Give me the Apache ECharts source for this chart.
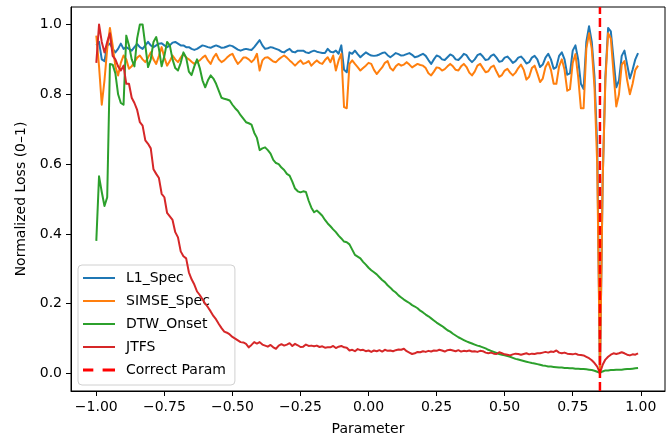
<!DOCTYPE html>
<html>
<head>
<meta charset="utf-8">
<script src="https://cdn.jsdelivr.net/npm/echarts@6/dist/echarts.min.js"></script>
<style>
html,body{margin:0;padding:0;background:#fff;}
#chart{width:672px;height:436px;}
</style>
</head>
<body>
<div id="chart"></div>
<script>
// Parameter grid (-1.00 ... 0.99, step 0.01)
const params = Array.from({length: 200}, (_, i) => +(-1 + i * 0.01).toFixed(2));

const l1Spec = [
0.94,0.95,0.90,0.895,0.94,0.945,0.93,0.92,0.93,0.945,
0.93,0.935,0.93,0.925,0.935,0.944,0.935,0.93,0.94,0.95,
0.94,0.935,0.94,0.945,0.946,0.94,0.935,0.94,0.948,0.95,
0.945,0.94,0.94,0.935,0.935,0.93,0.927,0.93,0.935,0.94,
0.938,0.935,0.933,0.937,0.94,0.937,0.933,0.934,0.937,0.94,
0.938,0.933,0.928,0.925,0.928,0.93,0.928,0.927,0.935,0.945,
0.955,0.94,0.93,0.932,0.935,0.933,0.93,0.927,0.922,0.92,
0.926,0.93,0.922,0.92,0.925,0.925,0.925,0.92,0.918,0.922,
0.925,0.922,0.92,0.918,0.918,0.93,0.922,0.92,0.925,0.916,
0.94,0.87,0.863,0.92,0.916,0.925,0.915,0.906,0.913,0.92,
0.915,0.911,0.91,0.911,0.914,0.918,0.92,0.912,0.906,0.912,
0.918,0.915,0.911,0.912,0.915,0.918,0.913,0.906,0.908,0.912,
0.916,0.91,0.898,0.887,0.9,0.911,0.908,0.9,0.898,0.906,
0.914,0.91,0.9,0.898,0.906,0.916,0.912,0.9,0.892,0.9,
0.912,0.916,0.908,0.898,0.9,0.91,0.914,0.905,0.893,0.895,
0.905,0.908,0.9,0.89,0.895,0.905,0.908,0.9,0.888,0.892,
0.905,0.91,0.9,0.878,0.885,0.905,0.916,0.9,0.873,0.878,
0.91,0.92,0.9,0.856,0.86,0.925,0.94,0.9,0.83,0.815,
0.95,0.995,0.95,0.85,0.65,0.0,0.55,0.85,0.99,0.98,
0.9,0.82,0.84,0.91,0.925,0.885,0.845,0.87,0.9,0.918
];

const simseSpec = [
0.968,0.88,0.77,0.84,0.93,0.99,0.94,0.88,0.854,0.89,
0.911,0.9,0.873,0.88,0.892,0.905,0.911,0.9,0.892,0.905,
0.92,0.9,0.887,0.91,0.935,0.905,0.882,0.895,0.911,0.9,
0.892,0.905,0.916,0.905,0.9,0.893,0.887,0.893,0.897,0.905,
0.911,0.897,0.887,0.905,0.916,0.9,0.892,0.897,0.905,0.912,
0.916,0.9,0.887,0.895,0.905,0.905,0.9,0.892,0.9,0.916,
0.868,0.897,0.905,0.906,0.9,0.894,0.892,0.9,0.906,0.911,
0.905,0.897,0.89,0.882,0.89,0.897,0.887,0.89,0.895,0.882,
0.89,0.897,0.89,0.887,0.898,0.906,0.892,0.911,0.868,0.897,
0.916,0.763,0.76,0.887,0.897,0.887,0.878,0.868,0.875,0.882,
0.89,0.887,0.87,0.858,0.868,0.877,0.89,0.895,0.875,0.868,
0.88,0.887,0.882,0.885,0.892,0.885,0.877,0.882,0.887,0.884,
0.882,0.875,0.86,0.854,0.865,0.877,0.875,0.868,0.872,0.88,
0.887,0.88,0.87,0.868,0.88,0.887,0.878,0.862,0.854,0.865,
0.882,0.887,0.875,0.863,0.866,0.878,0.882,0.865,0.85,0.855,
0.868,0.873,0.862,0.854,0.862,0.875,0.885,0.87,0.842,0.85,
0.875,0.882,0.86,0.835,0.845,0.878,0.892,0.87,0.83,0.83,
0.88,0.9,0.87,0.81,0.815,0.89,0.915,0.85,0.76,0.76,
0.93,0.975,0.93,0.82,0.6,0.0,0.55,0.84,0.975,0.96,
0.86,0.765,0.8,0.885,0.895,0.84,0.8,0.83,0.87,0.882
];

const dtwOnset = [
0.38,0.565,0.52,0.48,0.505,0.887,0.885,0.86,0.8,0.775,
0.77,0.968,0.94,0.9,0.88,0.96,1.0,1.0,0.94,0.878,
0.9,0.95,0.964,0.93,0.88,0.91,0.95,0.94,0.9,0.875,
0.868,0.89,0.92,0.905,0.865,0.855,0.88,0.9,0.875,0.84,
0.82,0.84,0.854,0.845,0.83,0.81,0.79,0.787,0.785,0.782,
0.77,0.76,0.752,0.74,0.73,0.72,0.717,0.713,0.69,0.675,
0.64,0.645,0.648,0.64,0.63,0.612,0.603,0.6,0.59,0.583,
0.572,0.567,0.55,0.53,0.522,0.519,0.522,0.52,0.495,0.475,
0.462,0.467,0.46,0.452,0.44,0.43,0.422,0.413,0.405,0.395,
0.387,0.378,0.376,0.37,0.355,0.34,0.335,0.33,0.32,0.312,
0.303,0.296,0.29,0.284,0.276,0.268,0.262,0.253,0.246,0.238,
0.232,0.224,0.218,0.212,0.207,0.202,0.196,0.192,0.187,0.18,
0.175,0.169,0.164,0.158,0.152,0.146,0.141,0.136,0.13,0.124,
0.12,0.114,0.109,0.104,0.1,0.096,0.092,0.089,0.086,0.083,
0.08,0.078,0.075,0.072,0.068,0.065,0.062,0.059,0.056,0.054,
0.052,0.05,0.048,0.045,0.042,0.04,0.038,0.036,0.034,0.032,
0.03,0.029,0.027,0.025,0.023,0.022,0.02,0.02,0.019,0.018,
0.017,0.017,0.016,0.016,0.015,0.015,0.014,0.014,0.013,0.013,
0.012,0.011,0.01,0.008,0.005,0.002,0.006,0.009,0.009,0.01,
0.01,0.011,0.011,0.011,0.012,0.013,0.013,0.014,0.015,0.016
];

const jtfs = [
0.89,1.0,0.95,0.92,0.95,0.975,0.91,0.9,0.88,0.868,
0.882,0.83,0.83,0.79,0.775,0.755,0.72,0.71,0.668,0.658,
0.645,0.585,0.572,0.56,0.515,0.505,0.46,0.45,0.44,0.405,
0.39,0.35,0.336,0.33,0.29,0.27,0.255,0.235,0.225,0.213,
0.2,0.19,0.178,0.165,0.155,0.142,0.13,0.12,0.117,0.112,
0.105,0.1,0.095,0.09,0.089,0.085,0.075,0.082,0.09,0.086,
0.09,0.083,0.08,0.077,0.082,0.075,0.071,0.08,0.084,0.08,
0.083,0.087,0.079,0.085,0.081,0.076,0.077,0.083,0.079,0.08,
0.078,0.08,0.076,0.078,0.074,0.075,0.075,0.079,0.073,0.077,
0.079,0.075,0.074,0.066,0.068,0.064,0.07,0.067,0.068,0.064,
0.066,0.062,0.066,0.064,0.067,0.063,0.068,0.065,0.066,0.064,
0.067,0.069,0.068,0.071,0.064,0.06,0.056,0.058,0.062,0.061,
0.064,0.062,0.065,0.063,0.066,0.065,0.068,0.066,0.063,0.067,
0.068,0.066,0.064,0.067,0.063,0.065,0.064,0.066,0.063,0.064,
0.062,0.065,0.064,0.06,0.058,0.06,0.057,0.056,0.061,0.058,
0.055,0.054,0.052,0.055,0.057,0.056,0.054,0.056,0.058,0.055,
0.057,0.056,0.058,0.058,0.06,0.062,0.06,0.063,0.062,0.066,
0.06,0.058,0.06,0.057,0.056,0.055,0.057,0.054,0.053,0.052,
0.048,0.044,0.038,0.03,0.02,0.002,0.025,0.04,0.048,0.054,
0.058,0.056,0.058,0.061,0.058,0.054,0.052,0.055,0.054,0.058
];

const correctParam = 0.85;
const xTicks = [-1.00, -0.75, -0.50, -0.25, 0.00, 0.25, 0.50, 0.75, 1.00];
const yTicks = [0.0, 0.2, 0.4, 0.6, 0.8, 1.0];
const seriesNames = ['L1_Spec', 'SIMSE_Spec', 'DTW_Onset', 'JTFS', 'Correct Param'];
const colors = ['#1f77b4', '#ff7f0e', '#2ca02c', '#d62728', '#ff0000'];

const X_MIN = -1.093, X_MAX = 1.089, Y_MIN = -0.05, Y_MAX = 1.05;
const FONT = 'DejaVu Sans';
const SOLID_ICON = 'path://M0,0H32V2H0Z';
const DASH_ICON = 'path://M0,0H10V3H0Z M19,0H31V3H19Z';

function pair(vals) { return vals.map((v, i) => [params[i], v]); }
function fmtX(v) { const s = Math.abs(v).toFixed(2); return v < -1e-9 ? '\u2212' + s : s; }

const chart = echarts.init(document.getElementById('chart'), null, {renderer: 'canvas'});
const lineSeries = [l1Spec, simseSpec, dtwOnset, jtfs].map((vals, k) => ({
  name: seriesNames[k], type: 'line', data: pair(vals), symbol: 'none', showSymbol: false,
  lineStyle: {color: colors[k], width: 2, join: 'round'}, itemStyle: {color: colors[k]},
  emphasis: {disabled: true}, z: 2 + k, silent: true
}));
lineSeries.push({
  name: seriesNames[4], type: 'line', data: [[correctParam, Y_MIN], [correctParam, Y_MAX]],
  symbol: 'none', showSymbol: false,
  lineStyle: {color: colors[4], width: 2.5, type: [9, 4]}, itemStyle: {color: colors[4]},
  emphasis: {disabled: true}, z: 7, silent: true
});

chart.setOption({
  animation: false,
  backgroundColor: '#fff',
  textStyle: {fontFamily: FONT},
  grid: {left: 71, right: 7, top: 7, bottom: 45, show: true, borderColor: '#000', borderWidth: 1,
         backgroundColor: 'transparent', containLabel: false, outerBoundsMode: 'none'},
  xAxis: {
    type: 'value', min: X_MIN, max: X_MAX,
    name: 'Parameter', nameLocation: 'middle', nameGap: 31,
    nameTextStyle: {fontFamily: FONT, fontSize: 14, color: '#000'},
    axisLine: {show: true, onZero: false, lineStyle: {color: '#000', width: 1}},
    axisTick: {show: true, inside: false, length: 5, customValues: xTicks, lineStyle: {color: '#000', width: 1}},
    axisLabel: {show: true, margin: 9, customValues: xTicks, formatter: fmtX, fontFamily: FONT, fontSize: 14, color: '#000'},
    splitLine: {show: false}
  },
  yAxis: {
    type: 'value', min: Y_MIN, max: Y_MAX,
    name: 'Normalized Loss (0\u20131)', nameLocation: 'middle', nameGap: 42, nameRotate: 90,
    nameTextStyle: {fontFamily: FONT, fontSize: 14, color: '#000'},
    axisLine: {show: true, onZero: false, lineStyle: {color: '#000', width: 1}},
    axisTick: {show: true, inside: false, length: 5, customValues: yTicks, lineStyle: {color: '#000', width: 1}},
    axisLabel: {show: true, margin: 9, customValues: yTicks, formatter: v => v.toFixed(1), fontFamily: FONT, fontSize: 14, color: '#000'},
    splitLine: {show: false}
  },
  legend: {
    orient: 'vertical', left: 78, top: 265,
    data: seriesNames.map((n, k) => ({name: n, icon: k === 4 ? DASH_ICON : SOLID_ICON, itemStyle: {color: colors[k]}})),
    itemWidth: 32, itemHeight: 14, itemGap: 9,
    padding: [6, 9, 8, 5],
    backgroundColor: 'rgba(255,255,255,0.8)', borderColor: '#d0d0d0', borderWidth: 1, borderRadius: 4,
    textStyle: {fontFamily: FONT, fontSize: 14, color: '#000', padding: [0, 0, 0, 6]},
    selectedMode: false
  },
  series: lineSeries
});
</script>
</body>
</html>
